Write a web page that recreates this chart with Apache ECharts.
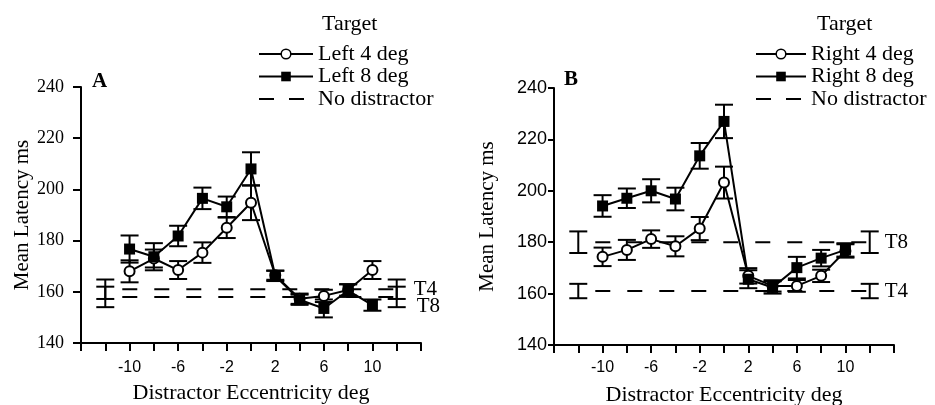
<!DOCTYPE html>
<html>
<head>
<meta charset="utf-8">
<script src="https://cdn.jsdelivr.net/npm/echarts@6/dist/echarts.min.js"></script>
<style>
  html, body { margin: 0; padding: 0; background: #fff; }
  #chart { width: 935px; height: 405px; }
</style>
</head>
<body>
<div id="chart"></div>
<script>
// distractor eccentricity (deg)
const ecc = [-10, -8, -6, -4, -2, 0, 2, 4, 6, 8, 10];
const xTickLabels = [-10, -6, -2, 2, 6, 10];

// panel A, left targets
const left4 = [168, 173, 168.5, 175.3, 185, 194.8, 166.5, 157.3, 158.4, 160.7, 168.5];
const left4Err = [4.3, 3.5, 3.5, 4, 4, 6.8, 1.8, 2, 2.4, 2.2, 3.5];
const left8 = [176.7, 173.7, 181.8, 196.5, 193.2, 208, 166.2, 156.9, 153.5, 160.5, 154.8];
const left8Err = [5.3, 5.3, 4, 4.2, 4, 6.5, 2, 2, 3.5, 2.5, 2.2];
// no distractor baselines for A: [T4, T8]
const noDistA = [161, 158];
const noDistAErr = [3.8, 4];

// panel B, right targets
const right4 = [174.3, 177, 181.2, 178.4, 185.3, 203.2, 166.9, 163, 163, 166.9, 176.6];
const right4Err = [3.6, 3.9, 3.4, 3.9, 4.5, 6.2, 3, 2.2, 2.3, 2.4, 2.6];
const right8 = [194.1, 197.1, 200, 196.8, 213.6, 227, 165.6, 162.4, 170.1, 173.8, 177];
const right8Err = [4.2, 3.8, 4.5, 4.4, 5, 6.5, 3.5, 2.4, 4.2, 3.2, 2.6];
// no distractor baselines for B: [T8, T4]
const noDistB = [180, 161];
const noDistBErr = [4.2, 2.8];

const SERIF = "'Liberation Serif', 'DejaVu Serif', serif";
const SANS = "'Liberation Sans', Arial, sans-serif";

const chart = echarts.init(document.getElementById("chart"));

function pairs(xs, ys) {
  return xs.map((x, i) => [x, ys[i]]);
}
function errData(xs, ys, errs) {
  return xs.map((x, i) => [x, ys[i] - errs[i], ys[i] + errs[i]]);
}

// error bar: vertical line with two caps
function renderErr(params, api) {
  const x = api.value(0);
  const top = api.coord([x, api.value(2)]);
  const bot = api.coord([x, api.value(1)]);
  const w = 9;
  const st = { stroke: "#000", lineWidth: 2 };
  return {
    type: "group",
    children: [
      { type: "line", shape: { x1: top[0], y1: top[1], x2: bot[0], y2: bot[1] }, style: st },
      { type: "line", shape: { x1: top[0] - w, y1: top[1], x2: top[0] + w, y2: top[1] }, style: st },
      { type: "line", shape: { x1: bot[0] - w, y1: bot[1], x2: bot[0] + w, y2: bot[1] }, style: st },
    ],
  };
}

function errSeries(idx, data) {
  return {
    type: "custom",
    xAxisIndex: idx,
    yAxisIndex: idx,
    renderItem: renderErr,
    encode: { x: 0, y: [1, 2] },
    data: data,
    z: 2,
    silent: true,
  };
}

function circleSeries(idx, name, data) {
  return {
    type: "line",
    name: name,
    xAxisIndex: idx,
    yAxisIndex: idx,
    data: data,
    symbol: "circle",
    symbolSize: 10,
    itemStyle: { color: "#fff", borderColor: "#000", borderWidth: 2 },
    lineStyle: { color: "#000", width: 2 },
    z: 4,
  };
}

function squareSeries(idx, name, data) {
  return {
    type: "line",
    name: name,
    xAxisIndex: idx,
    yAxisIndex: idx,
    data: data,
    symbol: "rect",
    symbolSize: 11,
    itemStyle: { color: "#000" },
    lineStyle: { color: "#000", width: 2 },
    z: 4,
  };
}

function dashSeries(idx, value, label, dist, offY) {
  return {
    type: "line",
    name: "No distractor",
    xAxisIndex: idx,
    yAxisIndex: idx,
    data: [[-12, value], [12, value]],
    symbol: "none",
    itemStyle: { color: "#000", opacity: 0 },
    lineStyle: { color: "#000", width: 2, type: [15, 17], dashOffset: 15 },
    endLabel: {
      show: true,
      formatter: label,
      distance: dist,
      offset: [0, offY],
      fontFamily: SERIF,
      fontSize: 21,
      color: "#000",
    },
    z: 1,
  };
}

function xAxisFor(idx, labelMargin) {
  return {
    type: "value",
    gridIndex: idx,
    min: -14,
    max: 14,
    interval: 2,
    axisLine: { onZero: false, lineStyle: { color: "#000", width: 2 } },
    axisTick: { length: 8, lineStyle: { color: "#000", width: 2 } },
    splitLine: { show: false },
    axisLabel: {
      formatter: (v) => (xTickLabels.includes(v) ? String(v) : ""),
      fontFamily: SANS,
      fontSize: 16,
      color: "#000",
      margin: labelMargin,
    },
    name: "Distractor Eccentricity deg",
    nameLocation: "middle",
    nameGap: 39,
    nameTextStyle: { fontFamily: SERIF, fontSize: 22, color: "#000" },
  };
}

function yAxisFor(idx, font, size, tickLen, labelMargin, nameGap) {
  return {
    type: "value",
    gridIndex: idx,
    min: 140,
    max: 240,
    interval: 20,
    axisLine: { show: true, onZero: false, lineStyle: { color: "#000", width: 2 } },
    axisTick: { show: true, length: tickLen, lineStyle: { color: "#000", width: 2 } },
    splitLine: { show: false },
    axisLabel: { fontFamily: font, fontSize: size, color: "#000", margin: labelMargin },
    name: "Mean Latency ms",
    nameLocation: "middle",
    nameGap: nameGap,
    nameTextStyle: { fontFamily: SERIF, fontSize: 21, color: "#000" },
  };
}

function legendFor(left, itemWidth, names) {
  return {
    left: left,
    top: 38,
    orient: "vertical",
    selectedMode: false,
    itemWidth: itemWidth,
    itemHeight: 12,
    itemGap: 0.5,
    textStyle: { fontFamily: SERIF, fontSize: 22, color: "#000", lineHeight: 20 },
    data: [
      { name: names[0], itemStyle: { color: "#fff", borderColor: "#000", borderWidth: 1.5 }, lineStyle: { color: "#000", width: 2 } },
      { name: names[1], itemStyle: { color: "#000" }, lineStyle: { color: "#000", width: 2 } },
      { name: "No distractor", itemStyle: { opacity: 0 }, lineStyle: { color: "#000", width: 2, type: [15, 15], dashOffset: 0 } },
    ],
  };
}

const option = {
  animation: false,
  backgroundColor: "#fff",
  title: [
    { text: "Target", left: 317, top: 8, textStyle: { fontFamily: SERIF, fontSize: 22, fontWeight: "normal", color: "#000" } },
    { text: "Target", left: 812, top: 8, textStyle: { fontFamily: SERIF, fontSize: 22, fontWeight: "normal", color: "#000" } },
    { text: "A", left: 87, top: 66, textStyle: { fontFamily: SERIF, fontSize: 21, fontWeight: "bold", color: "#000" } },
    { text: "B", left: 559, top: 64, textStyle: { fontFamily: SERIF, fontSize: 21, fontWeight: "bold", color: "#000" } },
  ],
  legend: [
    legendFor(253, 54, ["Left 4 deg", "Left 8 deg"]),
    legendFor(750, 50, ["Right 4 deg", "Right 8 deg"]),
  ],
  grid: [
    { left: 81, top: 87, width: 340, height: 256, outerBoundsMode: "none" },
    { left: 554, top: 88, width: 340, height: 257, outerBoundsMode: "none" },
  ],
  xAxis: [xAxisFor(0, 17), xAxisFor(1, 15)],
  yAxis: [
    yAxisFor(0, SERIF, 18, 8, 17, 38),
    yAxisFor(1, SANS, 18, 6, 7, 56),
  ],
  series: [
    // panel A
    dashSeries(0, noDistA[0], "T4", 17, 0),
    dashSeries(0, noDistA[1], "T8", 20, 10),
    errSeries(0, errData([-12, 12], [noDistA[0], noDistA[0]], [noDistAErr[0], noDistAErr[0]])),
    errSeries(0, errData([-12, 12], [noDistA[1], noDistA[1]], [noDistAErr[1], noDistAErr[1]])),
    errSeries(0, errData(ecc, left4, left4Err)),
    errSeries(0, errData(ecc, left8, left8Err)),
    circleSeries(0, "Left 4 deg", pairs(ecc, left4)),
    squareSeries(0, "Left 8 deg", pairs(ecc, left8)),
    // panel B
    dashSeries(1, noDistB[0], "T8", 15, 0),
    dashSeries(1, noDistB[1], "T4", 15, 0),
    errSeries(1, errData([-12, 12], [noDistB[0], noDistB[0]], [noDistBErr[0], noDistBErr[0]])),
    errSeries(1, errData([-12, 12], [noDistB[1], noDistB[1]], [noDistBErr[1], noDistBErr[1]])),
    errSeries(1, errData(ecc, right4, right4Err)),
    errSeries(1, errData(ecc, right8, right8Err)),
    circleSeries(1, "Right 4 deg", pairs(ecc, right4)),
    squareSeries(1, "Right 8 deg", pairs(ecc, right8)),
  ],
};

chart.setOption(option);
</script>
</body>
</html>
